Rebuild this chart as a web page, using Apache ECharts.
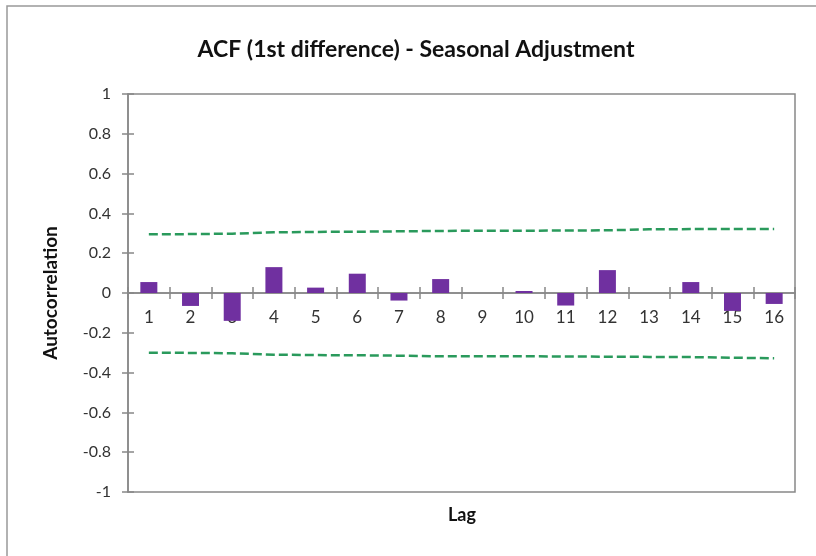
<!DOCTYPE html>
<html>
<head>
<meta charset="utf-8">
<script src="https://cdn.jsdelivr.net/npm/echarts@6/dist/echarts.min.js"></script>
<style>html,body{margin:0;padding:0;background:#fff}#c{width:816px;height:556px}</style>
</head>
<body>
<div id="c"></div>
<script>
var lags = ['1','2','3','4','5','6','7','8','9','10','11','12','13','14','15','16'];
var acf = [0.055, -0.065, -0.14, 0.13, 0.027, 0.097, -0.038, 0.07, 0.0, 0.01, -0.063, 0.115, 0.0, 0.055, -0.09, -0.055];
var upperBand = [0.295, 0.296, 0.298, 0.305, 0.307, 0.308, 0.31, 0.312, 0.313, 0.313, 0.314, 0.315, 0.32, 0.321, 0.322, 0.322];
var lowerBand = [-0.300, -0.301, -0.303, -0.310, -0.312, -0.313, -0.315, -0.318, -0.318, -0.318, -0.319, -0.320, -0.321, -0.322, -0.325, -0.328];
var yTicks = [-1, -0.8, -0.6, -0.4, -0.2, 0, 0.2, 0.4, 0.6, 0.8, 1];

var FONT = 'Lato';
var chart = echarts.init(document.getElementById('c'), null, {renderer: 'canvas'});
var axisGray = '#888888';
var gridRect = {left: 128, right: 21, top: 94, bottom: 64};
var zeroOffset = -((556 - gridRect.top - gridRect.bottom) / 2);
chart.setOption({
  animation: false,
  backgroundColor: '#ffffff',
  title: {
    text: 'ACF (1st difference) - Seasonal Adjustment',
    left: 411, top: 33, textAlign: 'center',
    textStyle: {fontFamily: FONT, fontWeight: 'bold', fontSize: 23, color: '#111'}
  },
  grid: [
    Object.assign({show: true, borderColor: axisGray, borderWidth: 1.5, backgroundColor: 'transparent'}, gridRect),
    Object.assign({show: false}, gridRect)
  ],
  xAxis: [{
    type: 'category', data: lags, boundaryGap: true, gridIndex: 0, position: 'bottom', offset: zeroOffset,
    axisLine: {onZero: false, lineStyle: {color: axisGray, width: 1.5}},
    axisTick: {show: true, inside: false, length: 6, lineStyle: {color: axisGray, width: 1.5}},
    axisLabel: {margin: 16, fontFamily: FONT, fontSize: 17, color: '#333'}
  }, {
    type: 'category', data: lags, boundaryGap: true, gridIndex: 1, position: 'bottom', offset: zeroOffset,
    axisLine: {onZero: false, lineStyle: {color: axisGray, width: 1.5}},
    axisTick: {show: true, inside: true, length: 6, lineStyle: {color: axisGray, width: 1.5}},
    axisLabel: {show: false}
  }],
  yAxis: [{
    type: 'value', min: -1, max: 1, interval: 0.2, gridIndex: 0,
    axisLine: {show: true, lineStyle: {color: axisGray, width: 1.5}},
    axisTick: {show: true, length: 6, lineStyle: {color: axisGray, width: 1.5}},
    splitLine: {show: false},
    axisLabel: {margin: 17, fontFamily: FONT, fontSize: 16, color: '#333',
      formatter: function (v) { var r = Math.round(v * 10) / 10; return yTicks.indexOf(r) >= 0 ? String(r) : ''; }},
    name: 'Autocorrelation', nameLocation: 'middle', nameGap: 68, nameRotate: 90,
    nameTextStyle: {fontFamily: FONT, fontWeight: 'bold', fontSize: 19, color: '#111'}
  }, {
    type: 'value', min: -1, max: 1, interval: 0.2, gridIndex: 1,
    axisLine: {show: false},
    axisTick: {show: true, inside: true, length: 6, lineStyle: {color: axisGray, width: 1.5}},
    splitLine: {show: false}, axisLabel: {show: false}
  }],
  series: [{
    type: 'bar', data: acf, barWidth: 17, xAxisIndex: 0, yAxisIndex: 0,
    itemStyle: {color: '#7030A0'}, z: 3
  }, {
    type: 'line', data: upperBand, symbol: 'none', xAxisIndex: 0, yAxisIndex: 0,
    lineStyle: {color: '#2A9A5C', width: 2.5, type: [9, 4]}, z: 4
  }, {
    type: 'line', data: lowerBand, symbol: 'none', xAxisIndex: 0, yAxisIndex: 0,
    lineStyle: {color: '#2A9A5C', width: 2.5, type: [9, 4]}, z: 4
  }],
  graphic: [{
    type: 'rect', shape: {x: 7, y: 6, width: 900, height: 700},
    style: {fill: 'none', stroke: '#999', lineWidth: 1.5}, silent: true
  }, {
    type: 'text', x: 462, y: 515,
    style: {text: 'Lag', font: 'bold 18px Lato', fill: '#111', align: 'center', verticalAlign: 'middle'}
  }]
});
</script>
</body>
</html>
